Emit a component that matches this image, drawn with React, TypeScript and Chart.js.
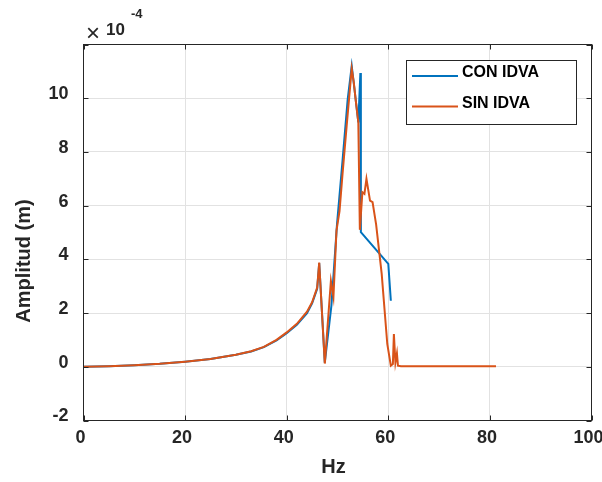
import React, { useEffect, useRef } from "react";
import { Chart, registerables } from "chart.js";

Chart.register(...registerables);

// Frequency (Hz) and amplitude (x 1e-4 m)
const conHz = [0, 5, 10, 15, 20, 25, 30, 33, 35.5, 38, 40, 42, 44, 45, 46, 46.4, 47.5, 48.8, 49.9, 51.0, 52.0, 52.8, 53.3, 54.1, 54.5, 54.6, 60.0, 60.5];
const conAmp = [0, 0.02, 0.06, 0.11, 0.19, 0.29, 0.45, 0.57, 0.73, 0.98, 1.25, 1.56, 2.0, 2.36, 2.9, 3.86, 0.15, 2.28, 5.3, 7.7, 9.95, 11.2, 10.4, 9.1, 10.94, 5.01, 3.83, 2.46];

const sinHz = [0, 5, 10, 15, 20, 25, 30, 33, 35.5, 38, 40, 42, 44, 45, 46, 46.4, 47.5, 48.7, 49.2, 49.8, 50.4, 51.0, 51.8, 52.8, 53.2, 53.6, 54.1, 54.4, 54.9, 55.3, 55.7, 56.4, 56.9, 57.6, 58.7, 59.8, 60.5, 60.9, 61.1, 61.4, 61.7, 61.9, 62.5, 65, 70, 75, 81.2];
const sinAmp = [0, 0.02, 0.06, 0.11, 0.19, 0.29, 0.45, 0.58, 0.74, 1.0, 1.28, 1.6, 2.05, 2.4, 2.95, 3.88, 0.12, 3.2, 2.6, 5.07, 5.8, 7.2, 8.96, 11.1, 10.6, 9.9, 9.1, 5.1, 6.5, 6.44, 7.0, 6.19, 6.13, 5.3, 3.46, 0.85, 0.04, 0.1, 1.22, 0.16, 0.5, 0.04, 0.02, 0.02, 0.02, 0.02, 0.02];

const seriesNames = ["CON IDVA", "SIN IDVA"];
const seriesColors = ["#0072BD", "#D95319"];

const xTicks = [0, 20, 40, 60, 80, 100];
const yTicks = [-2, 0, 2, 4, 6, 8, 10, 12];
const xLabel = "Hz";
const yLabel = "Amplitud (m)";
const exponentBase = "10";
const exponentPower = "-4";

const FONT = '"Liberation Sans", Arial, Helvetica, sans-serif';
const AX = "#262626";

const matlabPlugin = {
  id: "matlabDecor",
  afterDatasetsDraw(chart: any) {
    const { ctx, chartArea: a, scales } = chart;
    ctx.save();
    ctx.strokeStyle = AX;
    ctx.lineWidth = 1;
    ctx.strokeRect(a.left, a.top, a.right - a.left, a.bottom - a.top);
    const tl = 5;
    ctx.beginPath();
    for (const v of xTicks) {
      const px = Math.round(scales.x.getPixelForValue(v)) + 0.5;
      ctx.moveTo(px, a.bottom);
      ctx.lineTo(px, a.bottom - tl);
      ctx.moveTo(px, a.top);
      ctx.lineTo(px, a.top + tl);
    }
    for (const v of yTicks) {
      const py = Math.round(scales.y.getPixelForValue(v)) + 0.5;
      ctx.moveTo(a.left, py);
      ctx.lineTo(a.left + tl, py);
      ctx.moveTo(a.right, py);
      ctx.lineTo(a.right - tl, py);
    }
    ctx.stroke();
    ctx.restore();
  },
  afterDraw(chart: any) {
    const { ctx, chartArea: a } = chart;
    ctx.save();
    ctx.fillStyle = AX;
    // axis titles
    ctx.font = `bold 20px ${FONT}`;
    ctx.textAlign = "center";
    ctx.textBaseline = "middle";
    ctx.fillText(xLabel, (a.left + a.right) / 2 - 4, 467);
    ctx.save();
    ctx.translate(24, 261);
    ctx.rotate(-Math.PI / 2);
    ctx.fillText(yLabel, 0, 0);
    ctx.restore();
    // exponent
    ctx.textAlign = "left";
    ctx.textBaseline = "alphabetic";
    ctx.font = `24px ${FONT}`;
    ctx.fillText("\u00D7", 86, 41);
    ctx.font = `bold 17px ${FONT}`;
    ctx.fillText(exponentBase, 106, 35);
    ctx.font = `bold 13px ${FONT}`;
    ctx.fillText(exponentPower, 131, 18);
    // legend
    const lx = 406.5, ly = 60.5, lw = 170, lh = 64;
    ctx.fillStyle = "#ffffff";
    ctx.fillRect(lx, ly, lw, lh);
    ctx.strokeStyle = AX;
    ctx.lineWidth = 1;
    ctx.strokeRect(lx, ly, lw, lh);
    const rows = [76, 106.5];
    ctx.font = `bold 16px ${FONT}`;
    ctx.textBaseline = "middle";
    seriesNames.forEach((name, i) => {
      ctx.strokeStyle = seriesColors[i];
      ctx.lineWidth = 2;
      ctx.beginPath();
      ctx.moveTo(412, rows[i]);
      ctx.lineTo(458, rows[i]);
      ctx.stroke();
      ctx.fillStyle = "#000000";
      ctx.fillText(name, 462, rows[i] - 3);
    });
    ctx.restore();
  },
};

export default function App() {
  const ref = useRef<HTMLCanvasElement>(null);
  useEffect(() => {
    if (!ref.current) return;
    const toPts = (xs: number[], ys: number[]) => xs.map((x, i) => ({ x, y: ys[i] }));
    const chart = new Chart(ref.current, {
      type: "line",
      data: {
        datasets: [
          {
            label: seriesNames[0],
            data: toPts(conHz, conAmp),
            borderColor: seriesColors[0],
            backgroundColor: seriesColors[0],
            borderWidth: 2,
            pointRadius: 0,
            tension: 0,
            order: 1,
          },
          {
            label: seriesNames[1],
            data: toPts(sinHz, sinAmp),
            borderColor: seriesColors[1],
            backgroundColor: seriesColors[1],
            borderWidth: 2,
            pointRadius: 0,
            tension: 0,
            order: 0,
          },
        ],
      },
      options: {
        responsive: false,
        animation: false,
        devicePixelRatio: 1,
        layout: { padding: { top: 44.5, right: 10.5, left: 0, bottom: 0 } },
        plugins: { legend: { display: false }, tooltip: { enabled: false } },
        scales: {
          x: {
            type: "linear",
            min: 0,
            max: 100,
            afterFit: (s: any) => {
              s.height = 61.5;
              s.paddingLeft = 0;
              s.paddingRight = 0;
            },
            afterBuildTicks: (s: any) => {
              s.ticks = xTicks.map((v) => ({ value: v }));
            },
            grid: { color: "#e2e2e2", drawTicks: false },
            border: { display: false },
            ticks: {
              padding: 7,
              labelOffset: -3,
              color: AX,
              font: { family: FONT, size: 18, weight: "bold" },
              maxRotation: 0,
              callback: (v: any) => String(v),
            },
          },
          y: {
            type: "linear",
            min: -2,
            max: 12,
            afterFit: (s: any) => {
              s.width = 83.5;
              s.paddingTop = 0;
              s.paddingBottom = 0;
            },
            afterBuildTicks: (s: any) => {
              s.ticks = yTicks.map((v) => ({ value: v }));
            },
            grid: { color: "#e2e2e2", drawTicks: false },
            border: { display: false },
            ticks: {
              padding: 15,
              labelOffset: -4,
              color: AX,
              font: { family: FONT, size: 18, weight: "bold" },
              callback: (v: any) => (v === 12 ? "" : String(v)),
            },
          },
        },
      },
      plugins: [matlabPlugin],
    });
    return () => chart.destroy();
  }, []);
  return (
    <div style={{ position: "absolute", left: 0, top: 0, width: 602, height: 482, background: "#fff" }}>
      <canvas ref={ref} width={602} height={482} style={{ display: "block", width: 602, height: 482 }} />
    </div>
  );
}
